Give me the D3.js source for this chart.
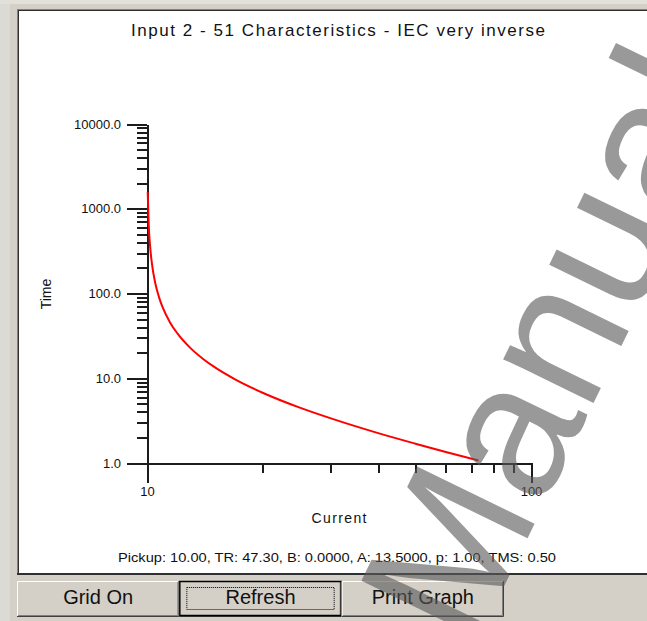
<!DOCTYPE html>
<html><head><meta charset="utf-8">
<script src="https://cdn.jsdelivr.net/npm/d3@7"></script>
<style>html,body{margin:0;padding:0;background:#d4d0c8;overflow:hidden}svg{display:block}</style>
</head><body>
<svg id="c" width="647" height="621"></svg>
<script>
// ---- data ----
const currentValues = [10.043, 10.1, 10.2, 10.3, 10.5, 10.75, 11, 11.5, 12, 13, 14, 15, 17, 20, 25, 30, 40, 50, 60, 73];
const timeValues    = [1570, 675, 338, 225, 135, 90, 67.5, 45, 33.8, 22.5, 16.9, 13.5, 9.64, 6.75, 4.5, 3.38, 2.25, 1.69, 1.35, 1.07];
const yTickValues = [1, 10, 100, 1000, 10000];
const yTickLabels = ["1.0", "10.0", "100.0", "1000.0", "10000.0"];
const xTickValues = [10, 100];
const xTickLabels = ["10", "100"];
const yMinorValues = [2,3,4,5,6,7,8,9,20,30,40,50,60,70,80,90,200,300,400,500,600,700,800,900,2000,3000,4000,5000,6000,7000,8000,9000];
const xMinorValues = [20,30,40,50,60,70,80,90];
const buttonLabels = ["Grid On", "Refresh", "Print Graph"];
const titleText = "Input 2 - 51 Characteristics - IEC very inverse";
const paramText = "Pickup: 10.00, TR: 47.30, B: 0.0000, A: 13.5000, p: 1.00, TMS: 0.50";
const xLabel = "Current";
const yLabel = "Time";
const watermarkText = "Manual";

const svg = d3.select("#c");
const FONT = "'Liberation Sans', Arial, sans-serif";
const AX = "#1c1c1c";

// window background
svg.append("rect").attr("x",0).attr("y",0).attr("width",647).attr("height",621).attr("fill","#d4d0c8");
svg.append("rect").attr("x",0).attr("y",0).attr("width",10).attr("height",621).attr("fill","#dcdad4");
svg.append("rect").attr("x",0).attr("y",0).attr("width",647).attr("height",4).attr("fill","#e2e0da");

// chart panel
svg.append("rect").attr("x",17).attr("y",9).attr("width",640).attr("height",566).attr("fill","#ffffff");
svg.append("line").attr("x1",17.5).attr("x2",17.5).attr("y1",9).attr("y2",575).attr("stroke","#808080");
svg.append("line").attr("x1",17).attr("x2",647).attr("y1",9.5).attr("y2",9.5).attr("stroke","#808080");
svg.append("line").attr("x1",18.5).attr("x2",18.5).attr("y1",10).attr("y2",574).attr("stroke","#303030");
svg.append("line").attr("x1",18).attr("x2",647).attr("y1",10.5).attr("y2",10.5).attr("stroke","#303030");
svg.append("line").attr("x1",17).attr("x2",647).attr("y1",574).attr("y2",574).attr("stroke","#303030").attr("stroke-width",2);

// scales
const x = d3.scaleLog().domain([10, 100]).range([147, 531]);
const y = d3.scaleLog().domain([1, 10000]).range([463, 124]);

// minor ticks
const gyMinor = svg.append("g").attr("transform","translate(147,0)")
  .call(d3.axisLeft(y).tickValues(yMinorValues).tickSize(10).tickSizeOuter(0).tickFormat(""));
const gxMinor = svg.append("g").attr("transform","translate(0,463)")
  .call(d3.axisBottom(x).tickValues(xMinorValues).tickSize(10).tickSizeOuter(0).tickFormat(""));
// major ticks
const gy = svg.append("g").attr("transform","translate(147,0)")
  .call(d3.axisLeft(y).tickValues(yTickValues).tickSize(20).tickSizeOuter(0).tickPadding(6)
    .tickFormat((d,i)=>yTickLabels[i]));
const gx = svg.append("g").attr("transform","translate(0,463)")
  .call(d3.axisBottom(x).tickValues(xTickValues).tickSize(20).tickSizeOuter(0).tickPadding(4)
    .tickFormat((d,i)=>xTickLabels[i]));

[gyMinor, gxMinor, gy, gx].forEach(g=>{
  g.selectAll("path.domain").attr("stroke",AX).attr("stroke-width",2).attr("shape-rendering","crispEdges");
  g.selectAll(".tick line").attr("stroke",AX).attr("stroke-width",2).attr("shape-rendering","crispEdges");
  g.selectAll(".tick text").attr("fill","#111").style("font-family",FONT).style("font-size","13px");
});

// curve
const pts = currentValues.map((c,i)=>[c, timeValues[i]]);
svg.append("path").datum(pts)
  .attr("d", d3.line().x(d=>x(d[0])).y(d=>y(d[1])).curve(d3.curveMonotoneX))
  .attr("fill","none").attr("stroke","#ff0000").attr("stroke-width",2);

// texts
svg.append("text").attr("x",338).attr("y",36).attr("text-anchor","middle")
  .attr("textLength",414).attr("lengthAdjust","spacing")
  .style("font-family",FONT).style("font-size","17px").attr("fill","#111").text(titleText);
svg.append("text").attr("x",339).attr("y",523).attr("text-anchor","middle")
  .attr("textLength",55).attr("lengthAdjust","spacing")
  .style("font-family",FONT).style("font-size","14px").attr("fill","#111").text(xLabel);
svg.append("text").attr("transform","translate(51,294) rotate(-90)").attr("text-anchor","middle")
  .style("font-family",FONT).style("font-size","14px").attr("fill","#111").text(yLabel);
svg.append("text").attr("x",337).attr("y",562).attr("text-anchor","middle")
  .attr("textLength",438).attr("lengthAdjust","spacingAndGlyphs")
  .style("font-family",FONT).style("font-size","13px").attr("fill","#111").text(paramText);

// buttons
const bx = d3.scaleBand().domain(buttonLabels).range([17, 504]).padding(0);
const bTop = 581, bH = 36;
buttonLabels.forEach((lab,i)=>{
  const x0 = bx(lab), w = bx.bandwidth();
  const g = svg.append("g");
  g.append("rect").attr("x",x0).attr("y",bTop).attr("width",w).attr("height",bH).attr("fill","#d4d0c8");
  g.append("path").attr("d",`M${x0+0.5},${bTop+bH-1} V${bTop+0.5} H${x0+w-1}`).attr("stroke","#ffffff").attr("fill","none");
  g.append("path").attr("d",`M${x0+w-0.5},${bTop} V${bTop+bH-0.5} H${x0}`).attr("stroke","#404040").attr("fill","none");
  g.append("path").attr("d",`M${x0+w-1.5},${bTop+1} V${bTop+bH-1.5} H${x0+1}`).attr("stroke","#808080").attr("fill","none");
  if (lab === "Refresh") {
    g.append("rect").attr("x",x0+0.5).attr("y",bTop+0.5).attr("width",w-1).attr("height",bH-2)
      .attr("fill","none").attr("stroke","#000").attr("stroke-width",1.5);
    g.append("rect").attr("x",x0+7.5).attr("y",bTop+6.5).attr("width",w-15).attr("height",bH-14)
      .attr("fill","none").attr("stroke","#000").attr("stroke-dasharray","1,1");
  }
  g.append("text").attr("x",x0+w/2).attr("y",bTop+23).attr("text-anchor","middle")
    .style("font-family",FONT).style("font-size","20px").attr("fill","#111").text(lab);
});

// watermark
svg.append("text").attr("transform","translate(472,652) rotate(-64)").attr("text-anchor","start")
  .style("font-family",FONT).style("font-size","190px").attr("fill","rgba(90,90,90,0.62)").text(watermarkText);
</script>
</body></html>
